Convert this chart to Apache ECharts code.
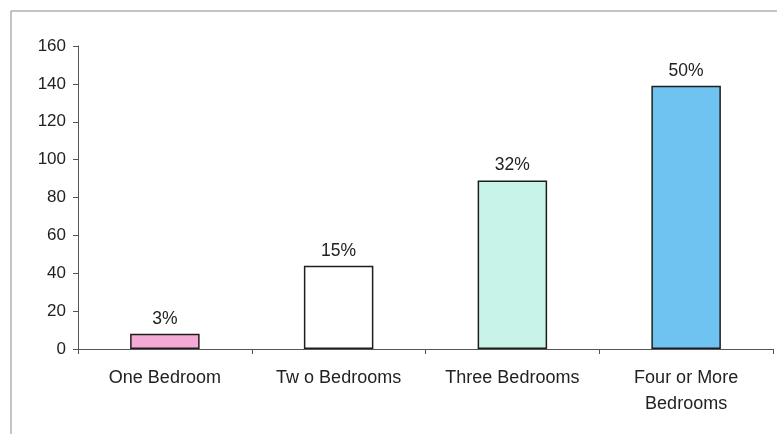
<!DOCTYPE html>
<html>
<head>
<meta charset="utf-8">
<script src="https://cdn.jsdelivr.net/npm/echarts@6/dist/echarts.min.js"></script>
<style>
  html, body { margin: 0; padding: 0; background: #fff; }
  #chart { width: 777px; height: 434px; }
</style>
</head>
<body>
<div id="chart"></div>
<script>
// Households by number of bedrooms
const categories = ['One Bedroom', 'Two Bedrooms', 'Three Bedrooms', 'Four or More\nBedrooms'];
const categoryText = ['One Bedroom', 'Tw o Bedrooms', 'Three Bedrooms', 'Four or More\nBedrooms'];
const counts = [8, 44, 89, 139];
const shareLabels = ['3%', '15%', '32%', '50%'];
const barColors = ['#f4a9d6', '#ffffff', '#c8f3e9', '#6fc3f0'];
const yTicks = [0, 20, 40, 60, 80, 100, 120, 140, 160];

const chart = echarts.init(document.getElementById('chart'), null, { renderer: 'canvas' });

chart.setOption({
  animation: false,
  backgroundColor: '#ffffff',
  textStyle: { fontFamily: 'Liberation Sans, Arial, sans-serif' },
  grid: { left: 78, right: 4, top: 46, bottom: 85, containLabel: false },
  graphic: [{
    type: 'polyline',
    shape: { points: [[11, 434], [11, 11], [777, 11]] },
    style: { stroke: '#8a8a8a', lineWidth: 1, fill: null },
    silent: true
  }],
  xAxis: {
    type: 'category',
    data: categories,
    axisLine: { lineStyle: { color: '#555', width: 1 } },
    axisTick: { show: true, alignWithLabel: false, length: 5, lineStyle: { color: '#555' } },
    axisLabel: {
      color: '#222',
      fontSize: 18,
      margin: 16,
      lineHeight: 26,
      interval: 0,
      formatter: (v, i) => categoryText[i]
    },
    splitLine: { show: false }
  },
  yAxis: {
    type: 'value',
    min: yTicks[0],
    max: yTicks[yTicks.length - 1],
    interval: 20,
    axisLine: { show: true, lineStyle: { color: '#555', width: 1 } },
    axisTick: { show: true, inside: false, length: 5, lineStyle: { color: '#555' } },
    axisLabel: { color: '#222', fontSize: 17, margin: 12 },
    splitLine: { show: false }
  },
  series: [{
    type: 'bar',
    data: counts.map((v, i) => ({
      value: v,
      itemStyle: { color: barColors[i] }
    })),
    barWidth: '40%',
    itemStyle: { borderColor: '#1e1e1e', borderWidth: 1.5 },
    label: {
      show: true,
      position: 'top',
      distance: 6,
      color: '#222',
      fontSize: 17.5,
      formatter: p => shareLabels[p.dataIndex]
    }
  }]
});
</script>
</body>
</html>
